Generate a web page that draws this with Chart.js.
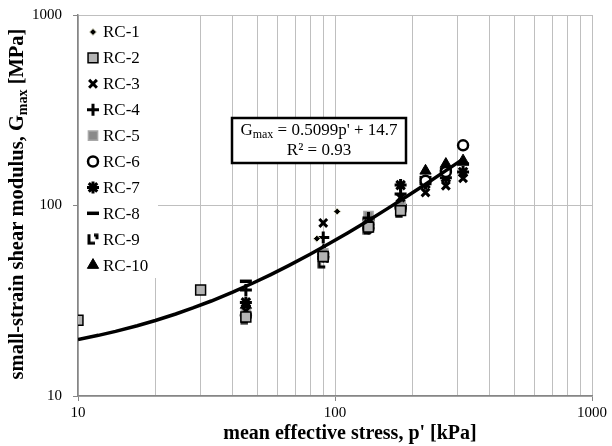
<!DOCTYPE html>
<html>
<head>
<meta charset="utf-8">
<script src="https://cdn.jsdelivr.net/npm/chart.js@4.4.1/dist/chart.umd.min.js"></script>
<style>
html, body { margin: 0; padding: 0; background: #fff; }
#wrap { width: 612px; height: 446px; }
</style>
</head>
<body>
<div id="wrap"><canvas id="gmax-chart"></canvas></div>
<script>
// series names, in legend order
var seriesNames = ['RC-1', 'RC-2', 'RC-3', 'RC-4', 'RC-5', 'RC-6', 'RC-7', 'RC-8', 'RC-9', 'RC-10'];

// mean effective stress p' [kPa] and Gmax [MPa] for each test
var rc1P = [85, 102];
var rc1G = [67, 93];
var rc2P = [10, 30, 45, 90, 135, 180];
var rc2G = [25, 36, 26, 54, 77, 94];
var rc3P = [45, 90, 135, 180, 225, 270, 315];
var rc3G = [28, 81, 80, 110, 117, 127, 139];
var rc4P = [45, 90, 135, 180];
var rc4G = [36, 68, 86, 115];
var rc5P = [45, 90, 135, 180];
var rc5G = [27, 56, 88, 100];
var rc6P = [45, 90, 135, 180, 225, 270, 315];
var rc6G = [26.5, 54, 76, 97, 135, 150, 207];
var rc7P = [45, 90, 135, 180, 225, 270, 315];
var rc7G = [31, 56, 84, 128, 130, 140, 150];
var rc8P = [45, 90, 135, 180, 225, 270, 315];
var rc8G = [40, 53, 80, 100, 140, 155, 165];
var rc9P = [45, 90, 135, 180];
var rc9G = [25.5, 50, 75, 92];
var rc10P = [45, 90, 135, 180, 225, 270, 315];
var rc10G = [30, 58, 82, 105, 152, 165, 172];

// linear trendline printed on the chart: Gmax = 0.5099 p' + 14.7
var trendSlope = 0.5099;
var trendIntercept = 14.7;
var trendP = [10, 12, 14, 17, 20, 24, 28, 33, 40, 48, 56, 66, 80, 95, 112, 135, 160, 190, 225, 270, 320];

// axis ticks
var xTickValues = [10, 20, 30, 40, 50, 60, 70, 80, 90, 100, 200, 300, 400, 500, 600, 700, 800, 900, 1000];
var xTickLabels = ['10', '100', '1000'];
var yTickValues = [10, 100, 1000];
var yTickLabels = ['10', '100', '1000'];

var serif = "'Liberation Serif', 'Times New Roman', serif";

function pairs(px, gy) {
    return px.map(function (p, i) { return { x: p, y: gy[i] }; });
}

// corner-bracket marker used for RC-9
function bracketMarker() {
    var c = document.createElement('canvas');
    c.width = 12; c.height = 12;
    var g = c.getContext('2d');
    g.strokeStyle = '#000';
    g.lineWidth = 3;
    g.beginPath();
    g.moveTo(2, 1); g.lineTo(2, 10); g.lineTo(8, 10);
    g.moveTo(7, 2); g.lineTo(10, 2); g.lineTo(10, 6);
    g.stroke();
    return c;
}

var markerStyles = [
    { pointStyle: 'rectRot', radius: 3.5, backgroundColor: '#000', borderColor: '#e8e8d0', borderWidth: 1 },
    { pointStyle: 'rect', radius: 7, backgroundColor: '#b4b4b4', borderColor: '#000', borderWidth: 1.5 },
    { pointStyle: 'crossRot', radius: 5.5, backgroundColor: '#000', borderColor: '#000', borderWidth: 3 },
    { pointStyle: 'cross', radius: 6, backgroundColor: '#000', borderColor: '#000', borderWidth: 3 },
    { pointStyle: 'rect', radius: 6.5, backgroundColor: '#8a8a8a', borderColor: '#a8a8a8', borderWidth: 1.5 },
    { pointStyle: 'circle', radius: 5, backgroundColor: '#fff', borderColor: '#000', borderWidth: 2.5 },
    { pointStyle: 'star', radius: 6, backgroundColor: '#000', borderColor: '#000', borderWidth: 3 },
    { pointStyle: 'line', radius: 6, backgroundColor: '#000', borderColor: '#000', borderWidth: 3.5 },
    { pointStyle: bracketMarker(), radius: 6, backgroundColor: '#000', borderColor: '#000', borderWidth: 0 },
    { pointStyle: 'triangle', radius: 6.5, backgroundColor: '#000', borderColor: '#000', borderWidth: 1 }
];

var seriesData = [
    pairs(rc1P, rc1G), pairs(rc2P, rc2G), pairs(rc3P, rc3G), pairs(rc4P, rc4G), pairs(rc5P, rc5G),
    pairs(rc6P, rc6G), pairs(rc7P, rc7G), pairs(rc8P, rc8G), pairs(rc9P, rc9G), pairs(rc10P, rc10G)
];

var datasets = [{
    label: 'trend',
    type: 'line',
    data: trendP.map(function (p) { return { x: p, y: trendSlope * p + trendIntercept }; }),
    borderColor: '#000',
    borderWidth: 3.5,
    pointRadius: 0,
    fill: false
}];

seriesNames.forEach(function (name, i) {
    var m = markerStyles[i];
    datasets.push({
        label: name,
        data: seriesData[i],
        pointStyle: m.pointStyle,
        pointRadius: m.radius,
        pointBackgroundColor: m.backgroundColor,
        pointBorderColor: m.borderColor,
        pointBorderWidth: m.borderWidth,
        showLine: false
    });
});

// legend inside the plot area, on a white box
var insideLegend = {
    id: 'insideLegend',
    afterDatasetsDraw: function (chart) {
        var ctx = chart.ctx, area = chart.chartArea;
        ctx.save();
        ctx.fillStyle = '#fff';
        ctx.fillRect(area.left + 1, area.top + 1, 79, 262);
        ctx.font = '17px ' + serif;
        ctx.textBaseline = 'middle';
        ctx.textAlign = 'left';
        seriesNames.forEach(function (name, i) {
            var m = markerStyles[i];
            var y = area.top + 17 + i * 25.9;
            var x = area.left + 15;
            ctx.fillStyle = m.backgroundColor;
            ctx.strokeStyle = m.borderColor;
            ctx.lineWidth = m.borderWidth;
            Chart.helpers.drawPoint(ctx, { pointStyle: m.pointStyle, radius: m.radius, rotation: 0, borderWidth: m.borderWidth }, x, y);
            ctx.fillStyle = '#000';
            ctx.fillText(name, area.left + 25, y + 1);
        });
        ctx.restore();
    }
};

// axis titles (y one has a subscript) and the trendline equation box
var extraText = {
    id: 'extraText',
    afterDraw: function (chart) {
        var ctx = chart.ctx;
        ctx.save();
        ctx.fillStyle = '#000';
        ctx.textBaseline = 'middle';
        ctx.textAlign = 'center';

        ctx.font = 'bold 20px ' + serif;
        ctx.fillText("mean effective stress, p' [kPa]", 350, 434);

        ctx.textAlign = 'left';
        var big = 'bold 20.5px ' + serif, small = 'bold 14px ' + serif;
        var a = 'small-strain shear modulus, G', b = 'max', c = ' [MPa]';
        ctx.font = big; var wa = ctx.measureText(a).width, wc = ctx.measureText(c).width;
        ctx.font = small; var wb = ctx.measureText(b).width;
        var total = wa + wb + wc;
        ctx.translate(18, 204);
        ctx.rotate(-Math.PI / 2);
        ctx.font = big; ctx.fillText(a, -total / 2, 0);
        ctx.font = small; ctx.fillText(b, -total / 2 + wa, 5);
        ctx.font = big; ctx.fillText(c, -total / 2 + wa + wb, 0);
        ctx.setTransform(1, 0, 0, 1, 0, 0);

        // equation box
        var bx = 232, by = 118, bw = 174, bh = 45;
        ctx.fillStyle = '#fff';
        ctx.fillRect(bx, by, bw, bh);
        ctx.strokeStyle = '#000';
        ctx.lineWidth = 2.5;
        ctx.strokeRect(bx, by, bw, bh);
        ctx.fillStyle = '#000';
        var f1 = '17px ' + serif, f2 = '12px ' + serif;
        var e1 = 'G', e2 = 'max', e3 = ' = ' + trendSlope + "p' + " + trendIntercept;
        ctx.font = f1; var w1 = ctx.measureText(e1).width, w3 = ctx.measureText(e3).width;
        ctx.font = f2; var w2 = ctx.measureText(e2).width;
        var cx = bx + bw / 2, sx = cx - (w1 + w2 + w3) / 2;
        ctx.font = f1; ctx.fillText(e1, sx, by + 13);
        ctx.font = f2; ctx.fillText(e2, sx + w1, by + 17);
        ctx.font = f1; ctx.fillText(e3, sx + w1 + w2, by + 13);
        ctx.textAlign = 'center';
        ctx.fillText('R\u00B2 = 0.93', cx, by + 33);
        ctx.restore();
    }
};

var gmaxChart = new Chart(document.getElementById('gmax-chart'), {
    type: 'scatter',
    data: { datasets: datasets },
    options: {
        responsive: true,
        maintainAspectRatio: false,
        animation: false,
        layout: { padding: { top: 15, right: 20, left: 0, bottom: 0 } },
        plugins: {
            legend: { display: false },
            tooltip: { enabled: false }
        },
        scales: {
            x: {
                type: 'logarithmic',
                min: 10,
                max: 1000,
                afterBuildTicks: function (scale) {
                    scale.ticks = xTickValues.map(function (v) { return { value: v }; });
                },
                afterFit: function (scale) {
                    scale.height = 50;
                    scale.paddingLeft = 0;
                    scale.paddingRight = 0;
                },
                ticks: {
                    autoSkip: false,
                    maxRotation: 0,
                    padding: 3,
                    color: '#000',
                    font: { family: serif, size: 15 },
                    callback: function (v) {
                        var s = String(v);
                        return xTickLabels.indexOf(s) >= 0 ? s : '';
                    }
                },
                grid: {
                    color: '#bfbfbf',
                    lineWidth: 1,
                    tickLength: 5,
                    tickColor: function (c) {
                        return xTickLabels.indexOf(String(c.tick && c.tick.value)) >= 0 ? '#868686' : 'rgba(0,0,0,0)';
                    }
                },
                border: { color: '#868686', width: 1.5 }
            },
            y: {
                type: 'logarithmic',
                min: 10,
                max: 1000,
                afterBuildTicks: function (scale) {
                    scale.ticks = yTickValues.map(function (v) { return { value: v }; });
                },
                afterFit: function (scale) {
                    scale.width = 78;
                    scale.paddingTop = 0;
                    scale.paddingBottom = 0;
                },
                ticks: {
                    padding: 11,
                    color: '#000',
                    font: { family: serif, size: 15 },
                    callback: function (v, i) { return yTickLabels[i]; }
                },
                grid: { color: '#bfbfbf', lineWidth: 1, tickLength: 5, tickColor: '#868686' },
                border: { color: '#868686', width: 1.5 }
            }
        }
    },
    plugins: [insideLegend, extraText]
});
</script>
</body>
</html>
